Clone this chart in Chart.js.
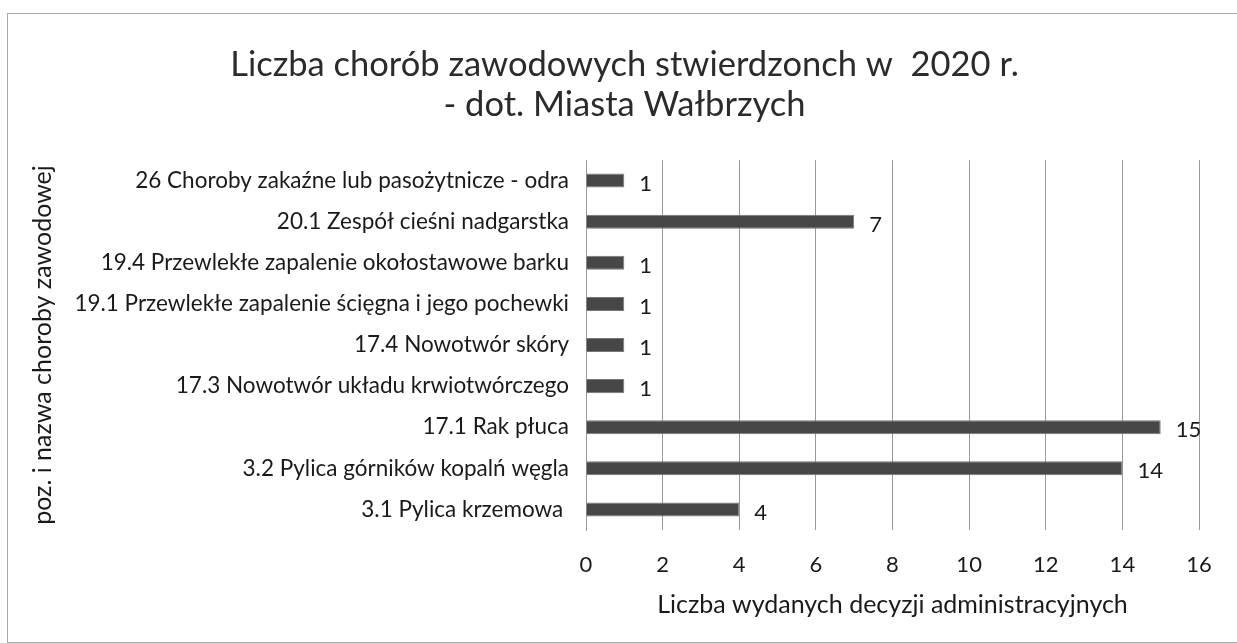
<!DOCTYPE html>
<html>
<head>
<meta charset="utf-8">
<script src="https://cdn.jsdelivr.net/npm/chart.js@4"></script>
<style>
  html, body { margin: 0; padding: 0; background: #fff; }
  #wrap { position: relative; width: 1237px; height: 643px; }
  #frame {
    position: absolute; left: 7px; top: 13px; width: 1240px; height: 628px;
    border-left: 1px solid #aaa; border-top: 1px solid #aaa; border-bottom: 1px solid #aaa;
  }
  canvas { position: absolute; left: 0; top: 0; }
</style>
</head>
<body>
<div id="wrap">
  <div id="frame"></div>
  <canvas id="chart" width="1237" height="643"></canvas>
</div>
<script>
// categories, top to bottom as in the original
var diseases = [
  "26 Choroby zakaźne lub pasożytnicze - odra",
  "20.1 Zespół cieśni nadgarstka",
  "19.4 Przewlekłe zapalenie okołostawowe barku",
  "19.1 Przewlekłe zapalenie ścięgna i jego pochewki",
  "17.4 Nowotwór skóry",
  "17.3 Nowotwór układu krwiotwórczego",
  "17.1 Rak płuca",
  "3.2 Pylica górników kopalń węgla",
  "3.1 Pylica krzemowa "
];
var decisions = [1, 7, 1, 1, 1, 1, 15, 14, 4];

var titleLines = ["Liczba chorób zawodowych stwierdzonch w  2020 r.", "- dot. Miasta Wałbrzych"];
var xTitle = "Liczba wydanych decyzji administracyjnych";
var yTitle = "poz. i nazwa choroby zawodowej";

var fontName = "Lato, 'Open Sans', sans-serif";

// draws the value right of each bar
var valueLabels = {
  id: "valueLabels",
  afterDatasetsDraw: function (chart) {
    var ctx = chart.ctx;
    var meta = chart.getDatasetMeta(0);
    ctx.save();
    ctx.font = "22px " + fontName;
    ctx.fillStyle = "#1a1a1a";
    ctx.textAlign = "left";
    ctx.textBaseline = "middle";
    meta.data.forEach(function (bar, i) {
      ctx.fillText(String(decisions[i]), bar.x + 15, bar.y + 3);
    });
    ctx.restore();
  }
};

var config = {
  type: "bar",
  data: {
    labels: diseases,
    datasets: [{
      data: decisions,
      backgroundColor: "#474747",
      borderColor: "#777",
      borderWidth: 1,
      barPercentage: 0.9,
      categoryPercentage: 0.38
    }]
  },
  options: {
    indexAxis: "y",
    responsive: false,
    animation: false,
    layout: { padding: { top: 22, right: 38, bottom: 23, left: 50 } },
    plugins: {
      legend: { display: false },
      tooltip: { enabled: false },
      title: {
        display: true,
        text: titleLines,
        color: "#2b2b2b",
        font: { family: fontName, size: 34.5, weight: "normal", lineHeight: 1.16 },
        padding: { top: 23, bottom: 35 }
      }
    },
    scales: {
      x: {
        min: 0,
        max: 16,
        ticks: { stepSize: 2, color: "#1a1a1a", padding: 22, font: { family: fontName, size: 22 } },
        grid: { color: "#999", lineWidth: 1, drawTicks: false },
        border: { display: false },
        title: {
          display: true,
          text: xTitle,
          color: "#1a1a1a",
          font: { family: fontName, size: 25 },
          padding: { top: 12, bottom: 0 }
        },
        afterFit: function (scale) { scale.height = 90; }
      },
      y: {
        ticks: { color: "#1a1a1a", padding: 9, font: { family: fontName, size: 22.5 } },
        grid: { display: false },
        border: { display: true, color: "#999" },
        title: {
          display: true,
          text: yTitle,
          color: "#1a1a1a",
          font: { family: fontName, size: 25 },
          padding: { top: -22, bottom: 4 }
        },
        afterFit: function (scale) { scale.width = 536; }
      }
    }
  },
  plugins: [valueLabels]
};

var myChart = new Chart(document.getElementById("chart"), config);
</script>
</body>
</html>
